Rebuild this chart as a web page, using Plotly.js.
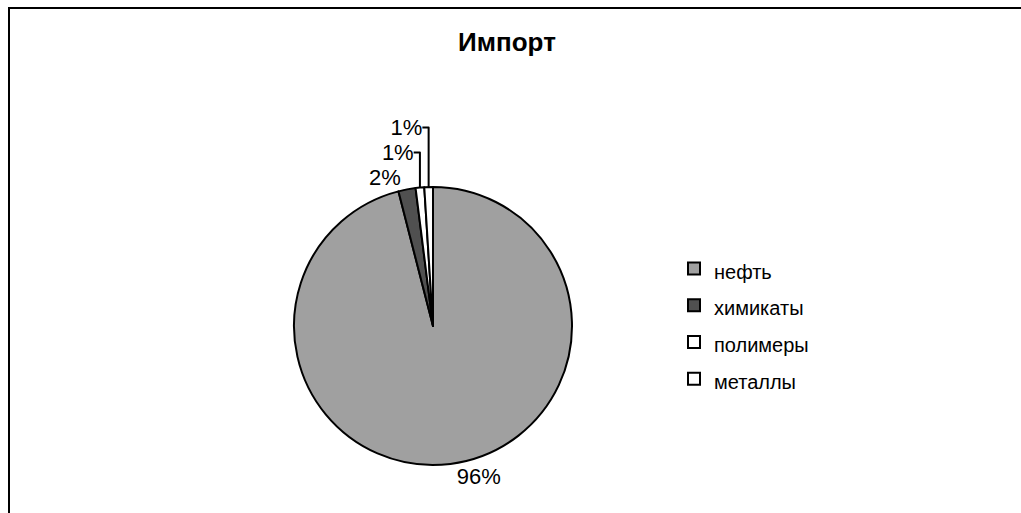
<!DOCTYPE html>
<html>
<head>
<meta charset="utf-8">
<script src="https://cdn.plot.ly/plotly-3.0.1.min.js"></script>
<style>html,body{margin:0;padding:0;background:#fff;}#chart{width:1021px;height:513px;}</style>
</head>
<body>
<div id="chart"></div>
<script>
const chartTitle = "Импорт";
const categories = ["нефть", "химикаты", "полимеры", "металлы"];
const shares = [96, 2, 1, 1];
const sliceColors = ["#a0a0a0", "#505050", "#ffffff", "#ffffff"];

const W = 1021, H = 513;
const FONT = "Liberation Sans, Arial, sans-serif";
// legend text drawn at 20px inside a 26px legend row (gives wider row spacing)
const legendLabels = categories.map(c => '<span style="font-size:20px">' + c + '</span>');

const trace = {
  type: "pie",
  labels: legendLabels,
  values: shares,
  sort: false,
  direction: "clockwise",
  rotation: 0,
  marker: {colors: sliceColors, line: {color: "#000000", width: 2}},
  textinfo: "percent",
  texttemplate: "%{percent:.0%}",
  textposition: "outside",
  automargin: false,
  outsidetextfont: {family: FONT, size: 22, color: "#000"},
  hoverinfo: "percent",
  domain: {x: [294 / W, 572 / W], y: [1 - 465 / H, 1 - 187 / H]},
  showlegend: true
};
const layout = {
  width: W, height: H,
  margin: {l: 0, r: 0, t: 0, b: 0},
  paper_bgcolor: "#ffffff",
  font: {family: FONT, color: "#000"},
  title: {text: "<b>" + chartTitle + "</b>", x: 507 / W, xanchor: "center", y: 1 - 42 / H, yanchor: "middle",
          font: {size: 26, family: FONT, color: "#000"}},
  legend: {x: 674 / W, xanchor: "left", y: 1 - 245 / H, yanchor: "top",
           font: {size: 26, family: FONT, color: "#000"},
           bgcolor: "rgba(0,0,0,0)", itemclick: false},
  shapes: [{type: "rect", xref: "paper", yref: "paper", x0: 9 / W, x1: 1.01, y0: -0.01, y1: 1 - 8 / H,
            line: {color: "#000", width: 2}, fillcolor: "rgba(0,0,0,0)", layer: "below"}]
};
Plotly.newPlot("chart", [trace], layout, {staticPlot: true});
</script>
</body>
</html>
